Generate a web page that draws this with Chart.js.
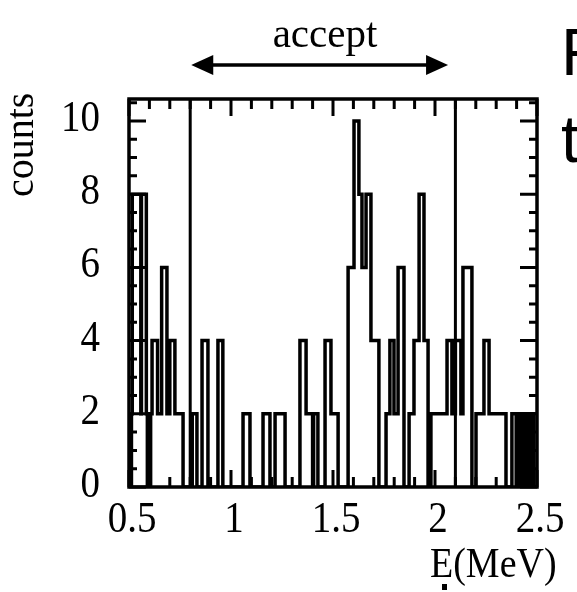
<!DOCTYPE html>
<html>
<head>
<meta charset="utf-8">
<script src="https://cdn.jsdelivr.net/npm/chart.js@4.4.1/dist/chart.umd.min.js"></script>
<style>
  html, body { margin: 0; padding: 0; background: #fff; }
  canvas { display: block; }
</style>
</head>
<body>
<canvas id="Chart1" width="577" height="592"></canvas>
<script>
// histogram bin left edges (MeV) and counts in each bin
const binEdges = [
  0.500, 0.508, 0.512, 0.516, 0.558, 0.561, 0.585, 0.590, 0.593, 0.603,
  0.606, 0.613, 0.640, 0.660, 0.686, 0.700, 0.725, 0.765, 0.810, 0.833,
  0.858, 0.887, 0.936, 0.960, 1.059, 1.093, 1.157, 1.191, 1.216, 1.265,
  1.338, 1.368, 1.400, 1.405, 1.426, 1.461, 1.490, 1.525, 1.574, 1.603,
  1.627, 1.642, 1.662, 1.686, 1.725, 1.760, 1.779, 1.799, 1.819, 1.848,
  1.873, 1.897, 1.922, 1.946, 1.966, 1.980, 2.059, 2.083, 2.100, 2.127,
  2.137, 2.181, 2.201, 2.240, 2.265, 2.348, 2.377, 2.398, 2.408, 2.419,
  2.431, 2.443, 2.454, 2.461, 2.469, 2.485, 2.500
];
const binCounts = [
  2, 0, 2, 8, 2, 8, 2, 0, 2, 0,
  2, 4, 2, 6, 2, 4, 2, 0, 2, 0,
  4, 0, 4, 0, 2, 0, 2, 0, 2, 0,
  4, 2, 0, 2, 0, 4, 2, 0, 6, 10,
  8, 6, 8, 4, 0, 2, 4, 2, 6, 0,
  2, 4, 8, 4, 0, 2, 4, 2, 4, 2,
  6, 0, 2, 4, 2, 0, 2, 0, 2, 0,
  2, 0, 2, 0, 2, 0, 0
];

// acceptance window cuts
const cutValues = [0.8, 2.1];
const arrowRange = [0.805, 2.064];

// axis ticks
const xTickLabels = ["0.5", "1", "1.5", "2", "2.5"];
const xTickValues = [0.5, 1.0, 1.5, 2.0, 2.5];
const yTickLabels = ["0", "2", "4", "6", "8", "10"];
const yTickValues = [0, 2, 4, 6, 8, 10];

const X_MIN = 0.5, X_MAX = 2.5;
const Y_MIN = 0, Y_MAX = 10.6;

const SERIF = "'Liberation Serif', 'DejaVu Serif', serif";

const histPoints = binEdges.map(function(e, i) {
  return { x: e, y: binCounts[i] };
});

const cutDatasets = cutValues.map(function(c) {
  return {
    data: [{ x: c, y: Y_MIN }, { x: c, y: Y_MAX }],
    borderColor: "#000",
    borderWidth: 3,
    pointRadius: 0,
    fill: false
  };
});

// text a bit taller than wide, like the scanned figure
function tallText(ctx, text, x, y, size, stretch) {
  ctx.save();
  ctx.translate(x, y);
  ctx.scale(1, stretch);
  ctx.font = size + "px " + SERIF;
  ctx.fillText(text, 0, 0);
  ctx.restore();
}

const framePlugin = {
  id: "frame",
  afterDraw: function(chart) {
    const ctx = chart.ctx;
    const xs = chart.scales.x;
    const ys = chart.scales.y;
    const a = chart.chartArea;

    ctx.save();
    ctx.strokeStyle = "#000";
    ctx.fillStyle = "#000";
    ctx.lineCap = "butt";

    // frame
    ctx.lineWidth = 3.5;
    ctx.strokeRect(a.left, a.top, a.right - a.left, a.bottom - a.top);

    // x ticks (top and bottom, pointing inward)
    ctx.lineWidth = 3;
    for (let i = 0; i <= 20; i++) {
      const v = X_MIN + i * 0.1;
      const px = xs.getPixelForValue(v);
      const len = (i % 5 === 0) ? 17 : 10;
      ctx.beginPath();
      ctx.moveTo(px, a.top);
      ctx.lineTo(px, a.top + len);
      ctx.moveTo(px, a.bottom);
      ctx.lineTo(px, a.bottom - len);
      ctx.stroke();
    }

    // y ticks (left and right, pointing inward)
    for (let i = 0; i <= 21; i++) {
      const v = i * 0.5;
      const py = ys.getPixelForValue(v);
      const len = (i % 4 === 0) ? 17 : 8;
      ctx.beginPath();
      ctx.moveTo(a.left, py);
      ctx.lineTo(a.left + len, py);
      ctx.moveTo(a.right, py);
      ctx.lineTo(a.right - len, py);
      ctx.stroke();
    }

    // tick labels
    ctx.textBaseline = "alphabetic";
    ctx.textAlign = "center";
    xTickValues.forEach(function(v, i) {
      tallText(ctx, xTickLabels[i], xs.getPixelForValue(v) + 3, 532, 39, 1.15);
    });
    ctx.textAlign = "right";
    yTickValues.forEach(function(v, i) {
      tallText(ctx, yTickLabels[i], 100, ys.getPixelForValue(v) + 10, 39, 1.15);
    });

    // axis titles
    ctx.textAlign = "left";
    tallText(ctx, "E(MeV)", 430, 577, 38, 1.1);
    ctx.fillRect(442, 584, 5, 6);

    ctx.save();
    ctx.translate(33, 197);
    ctx.rotate(-Math.PI / 2);
    ctx.font = "40px " + SERIF;
    ctx.fillText("counts", 0, 0);
    ctx.restore();

    // acceptance arrow
    const x1 = xs.getPixelForValue(arrowRange[0]);
    const x2 = xs.getPixelForValue(arrowRange[1]);
    const ay = 65;
    ctx.lineWidth = 3.5;
    ctx.beginPath();
    ctx.moveTo(x1 + 15, ay);
    ctx.lineTo(x2 - 15, ay);
    ctx.stroke();
    ctx.beginPath();
    ctx.moveTo(x1, ay);
    ctx.lineTo(x1 + 22, ay - 10);
    ctx.lineTo(x1 + 22, ay + 10);
    ctx.closePath();
    ctx.fill();
    ctx.beginPath();
    ctx.moveTo(x2, ay);
    ctx.lineTo(x2 - 22, ay - 10);
    ctx.lineTo(x2 - 22, ay + 10);
    ctx.closePath();
    ctx.fill();

    ctx.textAlign = "center";
    tallText(ctx, "accept", 325, 47, 41, 1.05);

    // slide text cut off at the right edge
    ctx.textAlign = "left";
    ctx.font = "66px 'Liberation Sans', Arial, sans-serif";
    ctx.fillText("R", 561, 75);
    ctx.fillText("t", 561, 162);

    ctx.restore();
  }
};

new Chart(document.getElementById("Chart1").getContext("2d"), {
  type: "line",
  data: {
    datasets: [
      {
        data: histPoints,
        stepped: true,
        borderColor: "#000",
        borderWidth: 3.5,
        borderJoinStyle: "miter",
        pointRadius: 0,
        fill: false
      }
    ].concat(cutDatasets)
  },
  options: {
    responsive: false,
    animation: false,
    layout: {
      padding: { left: 129, right: 40, top: 99, bottom: 105 }
    },
    plugins: {
      legend: { display: false },
      tooltip: { enabled: false }
    },
    scales: {
      x: { type: "linear", min: X_MIN, max: X_MAX, display: false },
      y: { type: "linear", min: Y_MIN, max: Y_MAX, display: false }
    }
  },
  plugins: [framePlugin]
});
</script>
</body>
</html>
